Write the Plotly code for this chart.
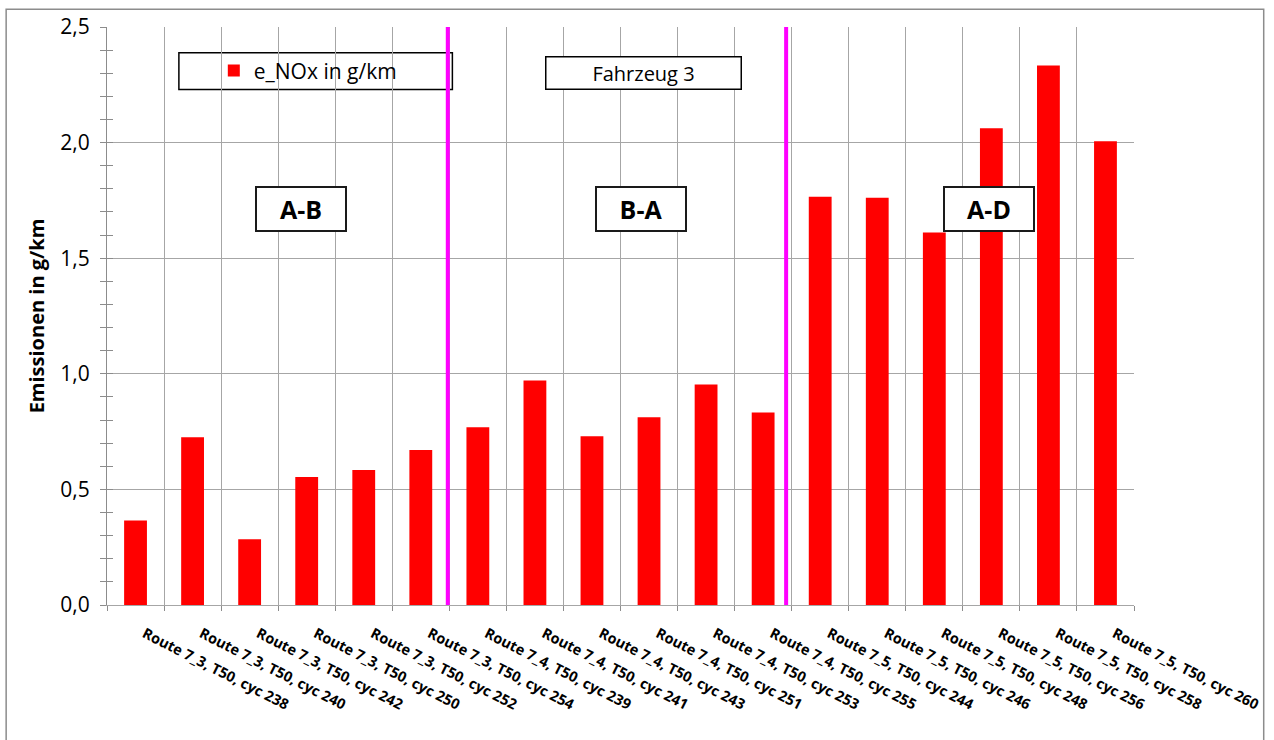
import plotly.graph_objects as go

# NOx emissions per measurement cycle, vehicle 3
categories = [
    "Route 7_3, T50, cyc 238", "Route 7_3, T50, cyc 240", "Route 7_3, T50, cyc 242",
    "Route 7_3, T50, cyc 250", "Route 7_3, T50, cyc 252", "Route 7_3, T50, cyc 254",
    "Route 7_4, T50, cyc 239", "Route 7_4, T50, cyc 241", "Route 7_4, T50, cyc 243",
    "Route 7_4, T50, cyc 251", "Route 7_4, T50, cyc 253", "Route 7_4, T50, cyc 255",
    "Route 7_5, T50, cyc 244", "Route 7_5, T50, cyc 246", "Route 7_5, T50, cyc 248",
    "Route 7_5, T50, cyc 256", "Route 7_5, T50, cyc 258", "Route 7_5, T50, cyc 260",
]
e_nox = [0.365, 0.726, 0.284, 0.554, 0.584, 0.670,
         0.769, 0.971, 0.730, 0.812, 0.954, 0.833,
         1.766, 1.761, 1.611, 2.062, 2.333, 2.006]

# route group labels (text, centre position in category units)
groups = [("A-B", 2.906), ("B-A", 8.853), ("A-D", 14.95)]
group_label_y = 1.711
# separators between route groups
separators = [5.473, 11.403]

FONT = "Open Sans"
GRID = "#a6a6a6"

fig = go.Figure()
fig.add_trace(go.Bar(
    x=categories, y=e_nox, name="e_NOx in g/km",
    marker=dict(color="#ff0000", line=dict(width=0)),
    width=0.40,
))
# helper trace so the mirrored y axis (ticks crossing the axis line) is drawn
fig.add_trace(go.Scatter(x=[categories[0]], y=[None], yaxis="y2",
                         showlegend=False, hoverinfo="skip"))

fig.update_layout(
    width=1274, height=740,
    margin=dict(l=107, r=138, t=23, b=135),
    paper_bgcolor="white", plot_bgcolor="white",
    separators=",.",
    font=dict(family=FONT, color="black"),
    showlegend=True,
    legend=dict(x=0.104, y=0.924, xanchor="left", yanchor="middle",
                bgcolor="rgba(0,0,0,0)", borderwidth=0,
                font=dict(family=FONT, size=21)),
    bargap=0.6,
    xaxis=dict(
        type="category", tickson="boundaries",
        showgrid=True, gridcolor=GRID, gridwidth=1,
        showline=True, linecolor=GRID, linewidth=1,
        ticks="outside", ticklen=5, tickcolor="#8c8c8c",
        tickangle=27,
        ticklabelstandoff=14, ticklabelshift=9,
        tickfont=dict(family=FONT, size=14.5, color="black", weight="bold"),
        range=[-0.5, 17.5],
    ),
    yaxis=dict(
        range=[0, 2.5], dtick=0.5, tickformat=".1f",
        showgrid=True, gridcolor=GRID, gridwidth=1,
        showline=True, linecolor="#8c8c8c", linewidth=1,
        ticks="outside", ticklen=6, tickcolor="#8c8c8c",
        minor=dict(dtick=0.1, ticks="outside", ticklen=6, tickcolor="#8c8c8c", showgrid=False),
        tickfont=dict(family=FONT, size=21, color="black"),
        ticklabelstandoff=6,
        title=dict(text="<b>Emissionen in g/km</b>", standoff=10,
                   font=dict(family=FONT, size=20, color="black")),
        zeroline=False,
    ),
    yaxis2=dict(
        overlaying="y", side="left", anchor="x",
        range=[0, 2.5], dtick=0.5, showticklabels=False, showgrid=False,
        ticks="inside", ticklen=6, tickcolor="#8c8c8c",
        minor=dict(dtick=0.1, ticks="inside", ticklen=6, tickcolor="#8c8c8c"),
        zeroline=False, showline=False,
    ),
)

# outer chart frame
fig.add_shape(type="rect", xref="paper", yref="paper",
              x0=-0.0982, x1=1.1263, y0=-0.30, y1=1.0309,
              line=dict(color="#8c8c8c", width=1.5), fillcolor="rgba(0,0,0,0)", layer="above")

# legend frame
fig.add_shape(type="rect", xref="paper", yref="paper",
              x0=0.0700, x1=0.3363, y0=0.8918, y1=0.9553,
              line=dict(color="black", width=1.5), fillcolor="white", layer="below")

# group separators
for xs in separators:
    fig.add_shape(type="line", xref="x", yref="y", x0=xs, x1=xs, y0=0, y1=2.5,
                  line=dict(color="#ff00ff", width=4), layer="above")

# vehicle caption
fig.add_annotation(x=8.90, y=2.299, xref="x", yref="y", text="Fahrzeug 3",
                   showarrow=False, width=194, height=31, borderpad=0,
                   bordercolor="black", borderwidth=1.5, bgcolor="white",
                   font=dict(family=FONT, size=20, color="black"))

for label, xc in groups:
    fig.add_annotation(x=xc, y=group_label_y, xref="x", yref="y", text=f"<b>{label}</b>",
                       showarrow=False, width=88, height=42, borderpad=0,
                       bordercolor="#1a1a1a", borderwidth=2, bgcolor="white",
                       font=dict(family=FONT, size=25, color="black"))

fig.write_html("out.html")
